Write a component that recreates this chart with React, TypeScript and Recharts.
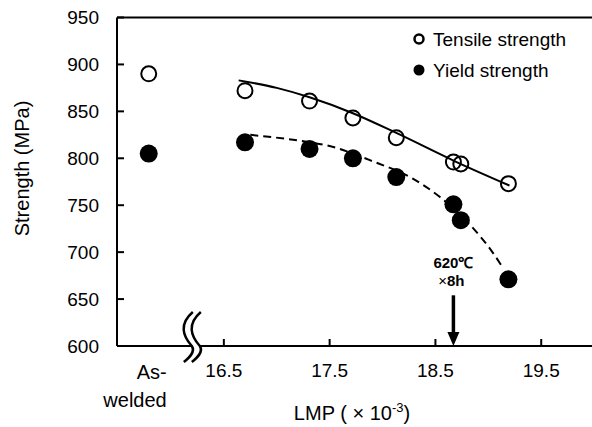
import React from "react";
import { ComposedChart, Scatter, Line, XAxis, YAxis, ReferenceLine, ReferenceDot, Legend, Label } from "recharts";

const FONT = '"Liberation Sans", Arial, sans-serif';

// heat-treated specimens (LMP x 10^-3)
const lmp = [16.7, 17.31, 17.72, 18.13, 18.67, 18.74, 19.19];
const tensile = [872, 861, 843, 822, 796, 794, 773];
const yieldStr = [817, 810, 800, 780, 751, 734, 671];

// as-welded sits left of the axis break
const asWeldedX = 15.79;
const asWeldedTensile = 890;
const asWeldedYield = 805;

// fitted trend curves
const tensileFitX = [16.64, 17.0, 17.31, 17.72, 18.13, 18.7, 19.2];
const tensileFitY = [883, 875, 865, 848, 827, 796, 771];
const yieldFitX = [16.75, 17.31, 17.5, 17.88, 18.29, 18.54, 18.86, 19.02, 19.14];
const yieldFitY = [825, 817, 813, 798, 778, 759, 725, 703, 683];

const xTicks = [asWeldedX, 16.5, 17.5, 18.5, 19.5];
const yTicks = [600, 650, 700, 750, 800, 850, 900, 950];

const xDomain: [number, number] = [15.49, 19.98];
const breakX = 16.235;
const breakGap = [16.197, 16.273];
const arrowX = 18.67;
const arrowTop = 654;

const tensileData = [{ x: asWeldedX, y: asWeldedTensile }, ...lmp.map((x, i) => ({ x, y: tensile[i] }))];
const yieldData = [{ x: asWeldedX, y: asWeldedYield }, ...lmp.map((x, i) => ({ x, y: yieldStr[i] }))];
const tensileFit = tensileFitX.map((x, i) => ({ x, y: tensileFitY[i] }));
const yieldFit = yieldFitX.map((x, i) => ({ x, y: yieldFitY[i] }));

function XTick(props: any) {
  const { x, y, payload } = props;
  if (payload.value === asWeldedX) {
    return (
      <g fontSize={20} fill="#000">
        <text x={x + 18} y={y + 26} dy="0.35em" textAnchor="end">As-</text>
        <text x={x + 18} y={y + 54} dy="0.35em" textAnchor="end">welded</text>
      </g>
    );
  }
  return (
    <g>
      <line x1={x} y1={y} x2={x} y2={y - 7} stroke="#000" strokeWidth={2} />
      <text x={x} y={y + 24} dy="0.35em" textAnchor="middle" fontSize={19} fill="#000">
        {payload.value.toFixed(1)}
      </text>
    </g>
  );
}

function YTick(props: any) {
  const { x, y, payload } = props;
  return (
    <g>
      <line x1={x} y1={y} x2={x + 7} y2={y} stroke="#000" strokeWidth={2} />
      <text x={x - 18} y={y} dy="0.35em" textAnchor="end" fontSize={19} fill="#000">
        {payload.value}
      </text>
    </g>
  );
}

function OpenDot(props: any) {
  return <circle cx={props.cx} cy={props.cy} r={7.5} fill="none" stroke="#000" strokeWidth={2} />;
}

function FilledDot(props: any) {
  return <circle cx={props.cx} cy={props.cy} r={9} fill="#000" />;
}

function BreakMark(props: any) {
  const { cx, cy } = props;
  const wave = (dx: number) => {
    const x = cx + dx;
    return `M${x + 1},${cy - 34} C${x - 13},${cy - 22} ${x - 9},${cy - 10} ${x},${cy} C${x + 4},${cy + 6} ${x - 3},${cy + 12} ${x - 8},${cy + 16}`;
  };
  return (
    <g fill="none" stroke="#000" strokeWidth={2.5}>
      <path d={wave(-4)} />
      <path d={wave(4)} />
    </g>
  );
}

function ArrowHead(props: any) {
  const { cx, cy } = props;
  return <path d={`M${cx - 6},${cy - 14} L${cx + 6},${cy - 14} L${cx},${cy} Z`} fill="#000" />;
}

function ArrowText(props: any) {
  const { cx, cy } = props;
  return (
    <g fontSize={15} fontWeight="bold" fill="#000" textAnchor="middle">
      <text x={cx} y={cy - 33} dy="0.35em">620℃</text>
      <text x={cx - 2} y={cy - 15} dy="0.35em">
        <tspan fontWeight="normal">×</tspan>8h
      </text>
    </g>
  );
}

function LegendBox() {
  return (
    <svg width={180} height={60} style={{ display: "block" }}>
      <circle cx={9} cy={15} r={4.5} fill="none" stroke="#000" strokeWidth={2.5} />
      <text x={23} y={15} dy="0.35em" fontSize={19} fill="#000">Tensile strength</text>
      <circle cx={9} cy={46} r={5.5} fill="#000" />
      <text x={23} y={46} dy="0.35em" fontSize={19} fill="#000">Yield strength</text>
    </svg>
  );
}

export default function App() {
  return (
    <div style={{ position: "absolute", left: 0, top: 0, fontFamily: FONT, background: "#fff" }}>
      <ComposedChart width={592} height={427} margin={{ top: 17.5, right: 0, bottom: 21, left: 57 }}>
        <XAxis
          type="number"
          dataKey="x"
          domain={xDomain}
          ticks={xTicks}
          interval={0}
          allowDataOverflow
          axisLine={false}
          tickLine={false}
          tickSize={0}
          tickMargin={0}
          height={60}
          tick={<XTick />}
        >
          <Label
            content={(p: any) => {
              const vb = p.viewBox || { x: 117, y: 346 };
              return (
                <text x={vb.x + 235} y={vb.y + 67} dy="0.35em" textAnchor="middle" fontSize={20} fill="#000">
                  LMP ( × 10<tspan fontSize={13} dy="-8">-3</tspan>
                  <tspan dy="8">)</tspan>
                </text>
              );
            }}
          />
        </XAxis>
        <YAxis
          type="number"
          domain={[600, 950]}
          ticks={yTicks}
          interval={0}
          allowDataOverflow
          width={60}
          axisLine={{ stroke: "#000", strokeWidth: 2 }}
          tickLine={false}
          tickSize={0}
          tickMargin={0}
          tick={<YTick />}
        >
          <Label
            content={(p: any) => {
              const vb = p.viewBox || { x: 57, y: 17.5, height: 328.5 };
              const lx = vb.x - 35;
              const ly = vb.y + 151;
              return (
                <text x={lx} y={ly} transform={`rotate(-90 ${lx} ${ly})`} dy="0.35em" textAnchor="middle" fontSize={20} fill="#000">
                  Strength (MPa)
                </text>
              );
            }}
          />
        </YAxis>

        <ReferenceLine y={950} stroke="#000" strokeWidth={2} />
        <ReferenceLine segment={[{ x: xDomain[0], y: 600 }, { x: breakGap[0], y: 600 }]} stroke="#000" strokeWidth={2} />
        <ReferenceLine segment={[{ x: breakGap[1], y: 600 }, { x: xDomain[1], y: 600 }]} stroke="#000" strokeWidth={2} />
        <ReferenceDot x={breakX} y={600} shape={<BreakMark />} />

        <Line data={tensileFit} dataKey="y" type="monotone" stroke="#000" strokeWidth={2} dot={false} isAnimationActive={false} legendType="none" />
        <Line data={yieldFit} dataKey="y" type="monotone" stroke="#000" strokeWidth={2} strokeDasharray="8 5" dot={false} isAnimationActive={false} legendType="none" />
        <Scatter name="Tensile strength" data={tensileData} dataKey="y" shape={<OpenDot />} isAnimationActive={false} />
        <Scatter name="Yield strength" data={yieldData} dataKey="y" shape={<FilledDot />} isAnimationActive={false} />

        <ReferenceLine segment={[{ x: arrowX, y: arrowTop }, { x: arrowX, y: 610 }]} stroke="#000" strokeWidth={3.5} />
        <ReferenceDot x={arrowX} y={600} shape={<ArrowHead />} />
        <ReferenceDot x={arrowX} y={arrowTop} shape={<ArrowText />} />

        <Legend
          layout="horizontal"
          verticalAlign="middle"
          align="center"
          content={<LegendBox />}
          wrapperStyle={{ left: 410, top: 24, width: 180 }}
        />
      </ComposedChart>
    </div>
  );
}
